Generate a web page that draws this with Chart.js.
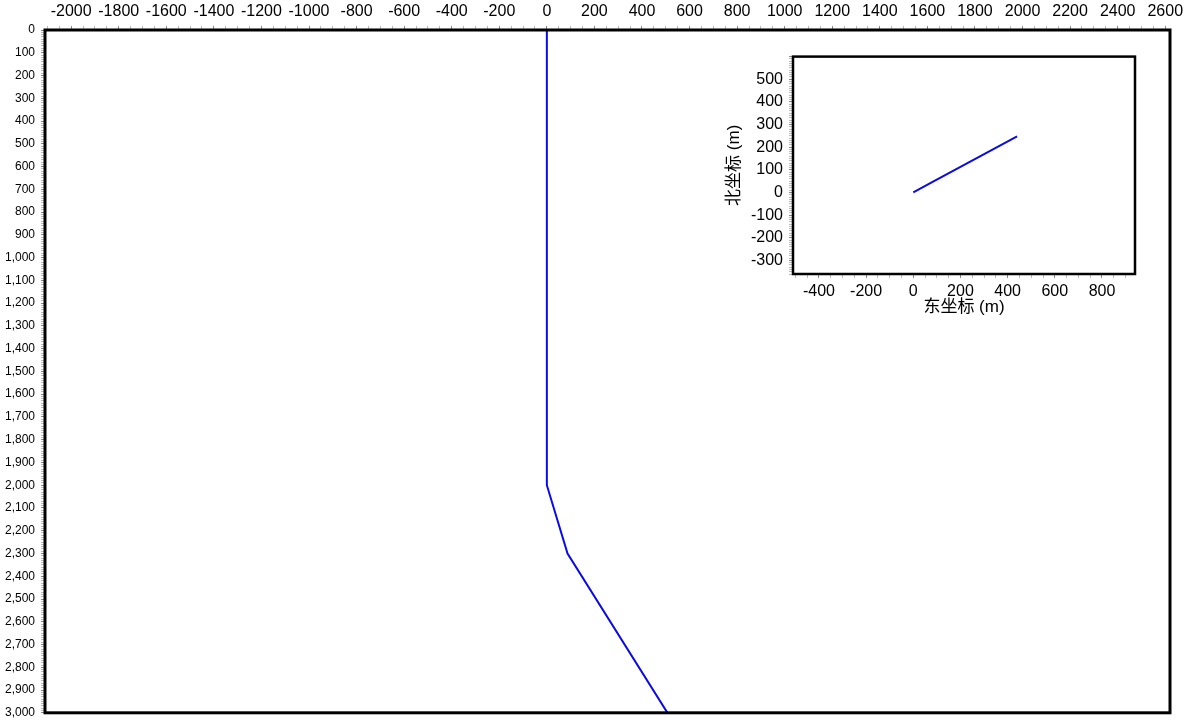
<!DOCTYPE html>
<html lang="zh">
<head>
<meta charset="UTF-8" />
<title>井眼轨迹</title>
<script src="https://cdn.jsdelivr.net/npm/chart.js"></script>
<style>
  body { margin: 0; background: #fff; }
  #wrap { position: relative; width: 1184px; height: 726px; }
  #mainChart { position: absolute; left: 0; top: 0; }
  #planChart { position: absolute; left: 720px; top: 41px; }
</style>
</head>
<body>
<div id="wrap">
  <canvas id="mainChart" width="1184" height="726"></canvas>
  <canvas id="planChart" width="420" height="279"></canvas>
</div>
<script>
// vertical section: horizontal displacement (m) vs depth (m)
const sectionDisp = [0, 0, 87, 507];
const sectionDepth = [0, 2000, 2300, 3000];

// plan view: east / north coordinates (m)
const planEast = [0, 76, 440];
const planNorth = [0, 43, 248];

const FONT = "'Liberation Sans', Arial, 'Noto Sans CJK SC', sans-serif";
const LINE_COLOR = "#0b0be0";

// draws the black box around the plot area
const framePlugin = {
  id: "frame",
  afterDraw(chart, args, opts) {
    const { ctx, chartArea: a } = chart;
    ctx.save();
    ctx.strokeStyle = "#000";
    ctx.lineWidth = opts.width || 2;
    ctx.strokeRect(a.left, a.top, a.right - a.left, a.bottom - a.top);
    ctx.restore();
  },
};

function toPoints(xs, ys) {
  return xs.map((x, i) => ({ x: x, y: ys[i] }));
}

// minor tick every `minor`, darker tick at labelled values
function tickColor(minor, major) {
  return (ctx) => {
    const v = ctx.tick ? ctx.tick.value : 0;
    if (v % major === 0) return "#888";
    if (v % minor === 0) return "#bbb";
    return "rgba(0,0,0,0)";
  };
}

new Chart(document.getElementById("mainChart"), {
  type: "scatter",
  data: {
    datasets: [
      {
        data: toPoints(sectionDisp, sectionDepth),
        showLine: true,
        borderColor: LINE_COLOR,
        borderWidth: 2,
        pointRadius: 0,
        fill: false,
        tension: 0,
      },
    ],
  },
  options: {
    responsive: false,
    animation: false,
    layout: { padding: { top: 0, left: 0, right: 14, bottom: 11 } },
    plugins: {
      legend: { display: false },
      tooltip: { enabled: false },
      frame: { width: 3 },
    },
    scales: {
      x: {
        type: "linear",
        position: "top",
        min: -2110,
        max: 2620,
        border: { display: false },
        grid: {
          drawOnChartArea: false,
          drawTicks: true,
          tickLength: 4,
          tickColor: tickColor(50, 200),
        },
        ticks: {
          stepSize: 10,
          autoSkip: false,
          minRotation: 0,
          maxRotation: 0,
          padding: 5,
          color: "#000",
          font: { family: FONT, size: 16 },
          callback: (v) => (v % 200 === 0 ? String(v) : ""),
        },
        afterFit: (s) => {
          s.height = 30;
        },
      },
      y: {
        type: "linear",
        reverse: true,
        min: 0,
        max: 3000,
        border: { display: false },
        grid: {
          drawOnChartArea: false,
          drawTicks: true,
          tickLength: 4,
          tickColor: tickColor(10, 100),
        },
        ticks: {
          stepSize: 10,
          autoSkip: false,
          padding: 6,
          color: "#000",
          font: { family: FONT, size: 12 },
          callback: (v) => (v % 100 === 0 ? v.toLocaleString("en-US") : ""),
        },
        afterFit: (s) => {
          s.width = 45;
        },
      },
    },
  },
  plugins: [framePlugin],
});

new Chart(document.getElementById("planChart"), {
  type: "scatter",
  data: {
    datasets: [
      {
        data: toPoints(planEast, planNorth),
        showLine: true,
        borderColor: LINE_COLOR,
        borderWidth: 2,
        pointRadius: 0,
        fill: false,
        tension: 0,
      },
    ],
  },
  options: {
    responsive: false,
    animation: false,
    layout: { padding: { top: 0, left: 0, right: 5, bottom: 0 } },
    plugins: {
      legend: { display: false },
      tooltip: { enabled: false },
      frame: { width: 2.5 },
    },
    scales: {
      x: {
        type: "linear",
        min: -510,
        max: 940,
        border: { display: false },
        grid: {
          drawOnChartArea: false,
          drawTicks: true,
          tickLength: 4,
          tickColor: tickColor(50, 200),
        },
        ticks: {
          stepSize: 10,
          autoSkip: false,
          minRotation: 0,
          maxRotation: 0,
          padding: 4,
          color: "#000",
          font: { family: FONT, size: 16 },
          callback: (v) => (v % 200 === 0 ? String(v) : ""),
        },
        title: {
          display: true,
          text: "东坐标 (m)",
          color: "#000",
          font: { family: FONT, size: 17 },
          padding: { top: 0, bottom: 2 },
        },
        afterFit: (s) => {
          s.height = 46;
        },
      },
      y: {
        type: "linear",
        min: -360,
        max: 600,
        border: { display: false },
        grid: {
          drawOnChartArea: false,
          drawTicks: true,
          tickLength: 4,
          tickColor: tickColor(10, 100),
        },
        ticks: {
          stepSize: 10,
          autoSkip: false,
          padding: 6,
          color: "#000",
          font: { family: FONT, size: 16 },
          callback: (v) => (v % 100 === 0 && v < 600 ? String(v) : ""),
        },
        title: {
          display: true,
          text: "北坐标 (m)",
          color: "#000",
          font: { family: FONT, size: 17 },
          padding: { top: 4, bottom: 0 },
        },
        afterFit: (s) => {
          s.width = 73;
        },
      },
    },
  },
  plugins: [framePlugin],
});
</script>
</body>
</html>
